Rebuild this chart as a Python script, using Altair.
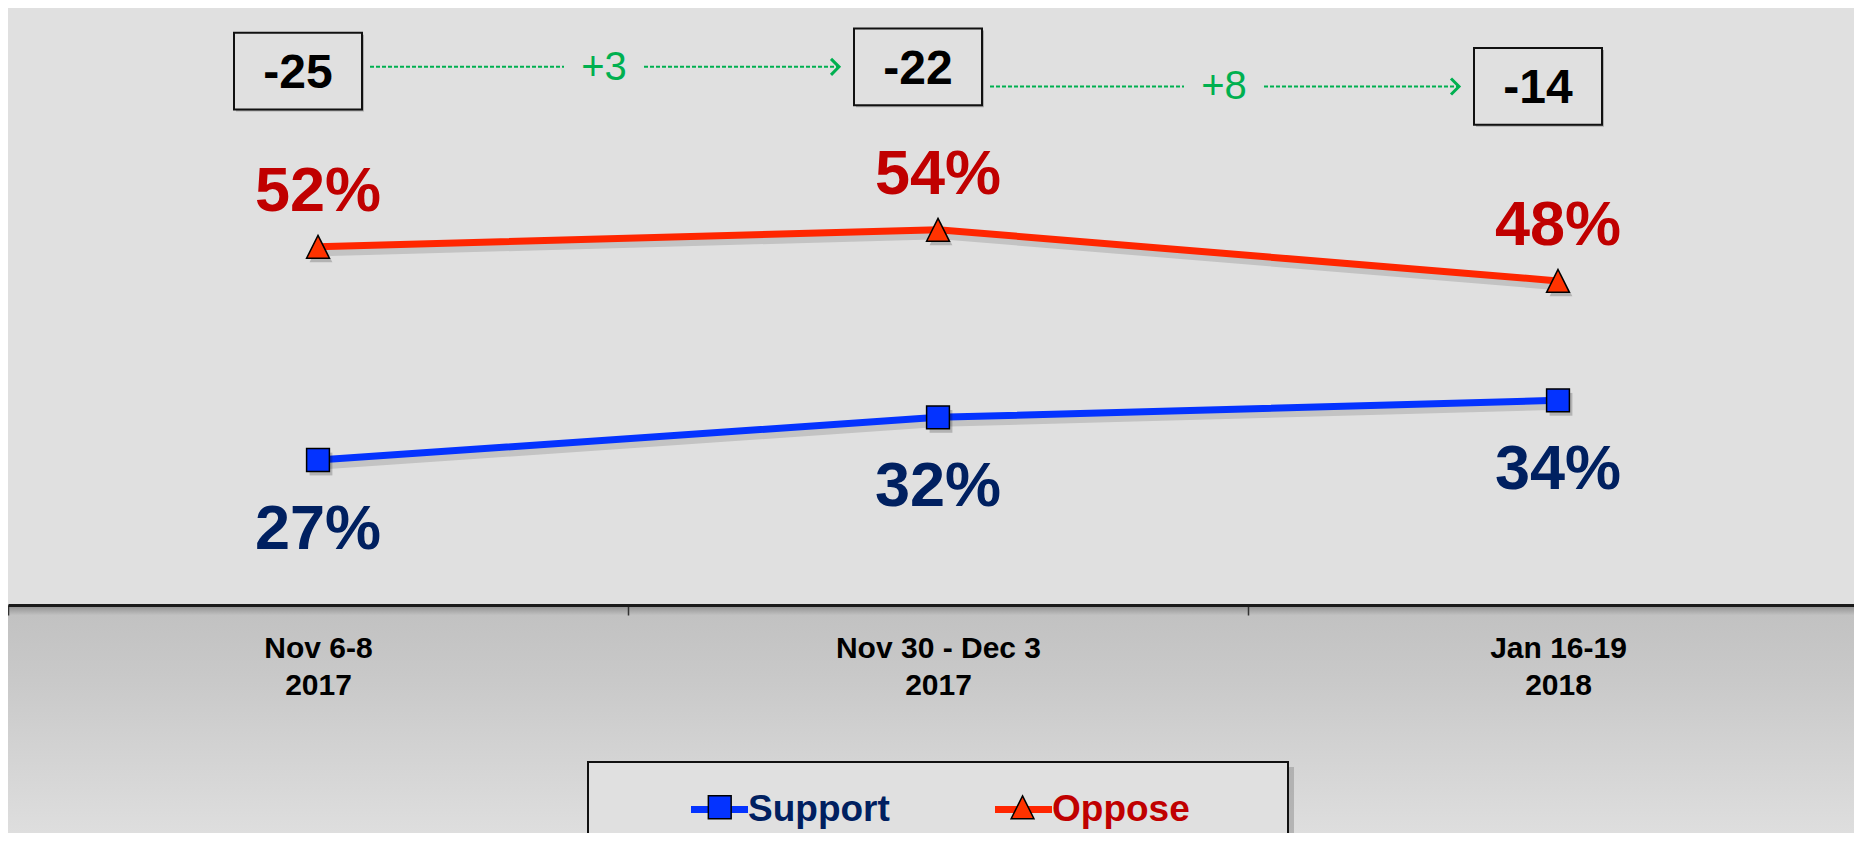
import json
import altair as alt
import pandas as pd

# ---------------- data ----------------
date_line1 = ["Nov 6-8", "Nov 30 - Dec 3", "Jan 16-19"]
date_line2 = ["2017", "2017", "2018"]
support = [27, 32, 34]
oppose = [52, 54, 48]
series_names = ["Support", "Oppose"]

# ---------------- layout / style ----------------
W, H = 1846, 597
PAD_BOTTOM = 228
BAND = 620
X_MAX = -0.5 + W / BAND
Y_DOMAIN = [10, 80]
BOX_LEVEL = [72.6, 73.1, 70.8]   # vertical placement of the net-difference boxes (y units)

LINE_COLORS = ["#0433ff", "#ff2600"]
MARKER_COLORS = ["#0433ff", "#ff3300"]
LABEL_COLORS = ["#002060", "#c00000"]
GREEN = "#00b050"
FONT = "Liberation Sans"
NARROW = "Liberation Sans Narrow, Arial Narrow, Liberation Sans"
SQUARE = "M-0.4,-0.4H0.4V0.4H-0.4Z"
TRIANGLE = "M0,-0.4L0.4,0.4H-0.4Z"
BOX_PATH = "M-1,-0.6H1V0.6H-1Z"
CHEVRON = "M-1,-1L0,0L-1,1"

idx = list(range(len(date_line1)))
rows = []
for i in idx:
    rows.append(dict(x=i, value=support[i], series="Support", series2="Support", text=f"{support[i]}%"))
    rows.append(dict(x=i, value=oppose[i], series="Oppose", series2="Oppose", text=f"{oppose[i]}%"))
df = pd.DataFrame(rows)

net = [s - o for s, o in zip(support, oppose)]
net_df = pd.DataFrame(dict(x=idx, lvl=BOX_LEVEL, text=[f"{n:d}" for n in net]))
chg = [net[i + 1] - net[i] for i in range(len(net) - 1)]
chg_df = pd.DataFrame(dict(
    x=idx[:-1], x_next=idx[1:], mid=[i + 0.5 for i in idx[:-1]],
    lvl=BOX_LEVEL[1:], text=[f"{c:+d}" for c in chg]))

# ---------------- scales / axes ----------------
label_arr = json.dumps([[a, b] for a, b in zip(date_line1, date_line2)])
x_axis = alt.Axis(
    values=[i - 0.5 for i in idx],
    labelExpr=f"{label_arr}[round(datum.value + 0.5)]",
    labelOffset=BAND / 2, title=None, grid=False,
    tickSize=10, tickColor="#333333", tickWidth=1.5,
    domainColor="#1a1a1a", domainWidth=3,
    labelFont=FONT, labelFontSize=30, labelFontWeight="bold", labelColor="black",
    labelPadding=18, labelLineHeight=37, labelFlush=False, labelOverlap=False,
    labelBound=False, labelLimit=600, zindex=2)
x_scale = alt.Scale(domain=[-0.5, X_MAX], nice=False, zero=False)
y_scale = alt.Scale(domain=Y_DOMAIN, nice=False, zero=False)


def X(field):
    return alt.X(f"{field}:Q", scale=x_scale, axis=x_axis)


def Y(field):
    return alt.Y(f"{field}:Q", scale=y_scale, axis=None)


LEG_Y = 769.5
SUPPORT_LABEL_W = 141.8   # rendered width of the "Support" legend label (37px bold)
line_legend = alt.Legend(
    orient="none", legendX=679.5, legendY=LEG_Y, direction="horizontal", title=None,
    symbolType="stroke", symbolSize=3249, symbolStrokeWidth=7,
    labelFont=FONT, labelFontSize=37, labelFontWeight="bold",
    labelColor={"expr": f"datum.label == 'Support' ? '{LABEL_COLORS[0]}' : '{LABEL_COLORS[1]}'"},
    labelOffset={"expr": "-3.5"}, columnPadding=90, padding=0)
marker_legend = alt.Legend(
    orient="none", legendX=682.25, legendY=LEG_Y, direction="horizontal", title=None,
    symbolType={"expr": f"datum.label == 'Support' ? '{SQUARE}' : '{TRIANGLE}'"},
    symbolSize=3249, symbolStrokeColor="black", symbolStrokeWidth=1.5, symbolOpacity=1,
    labelExpr="''", labelFontSize=37,
    labelOffset={"expr": "-3.5"}, columnPadding=105 + SUPPORT_LABEL_W, padding=0)

# ---------------- layers ----------------
one = pd.DataFrame({"x": [1]})

bg_low = alt.Chart(one).mark_rect(
    color=alt.Gradient(gradient="linear",
                       stops=[alt.GradientStop(color="#8a8a8a", offset=0),
                              alt.GradientStop(color="#c2c2c2", offset=0.045),
                              alt.GradientStop(color="#c8c8c8", offset=0.3),
                              alt.GradientStop(color="#dedede", offset=1)],
                       x1=0, x2=0, y1=0, y2=1)
).encode(x=alt.value(0), x2=alt.value("width"), y=alt.value("height"), y2=alt.value(H + PAD_BOTTOM))

legend_shadow = alt.Chart(one).mark_rect(
    fill="#9a9a9a", opacity=0.6, xOffset=-345, x2Offset=356
).encode(x=X("x"), x2=alt.X2("x"), y=alt.value(H + 162), y2=alt.value(H + 320))

legend_box = alt.Chart(one).mark_rect(
    fill="#e0e0e0", stroke="#111111", strokeWidth=2, xOffset=-350, x2Offset=350
).encode(x=X("x"), x2=alt.X2("x"), y=alt.value(H + 157), y2=alt.value(H + 320))

line_shadow = alt.Chart(df).mark_line(
    strokeWidth=9, color="#000000", opacity=0.13, xOffset=3, yOffset=5
).encode(x=X("x"), y=Y("value"), detail="series:N")

lines = alt.Chart(df).mark_line(strokeWidth=7).encode(
    x=X("x"), y=Y("value"),
    color=alt.Color("series:N", scale=alt.Scale(domain=series_names, range=LINE_COLORS), legend=line_legend))

point_shadow = alt.Chart(df).mark_point(
    filled=True, fill="#000000", opacity=0.2, size=3249, xOffset=3, yOffset=4
).encode(x=X("x"), y=Y("value"),
         shape=alt.Shape("series2:N", scale=alt.Scale(domain=series_names, range=[SQUARE, TRIANGLE]), legend=None))

points = alt.Chart(df).mark_point(
    filled=True, stroke="black", strokeWidth=1.5, size=3249, opacity=1
).encode(
    x=X("x"), y=Y("value"),
    fill=alt.Fill("series2:N", scale=alt.Scale(domain=series_names, range=MARKER_COLORS), legend=marker_legend),
    shape=alt.Shape("series2:N", scale=alt.Scale(domain=series_names, range=[SQUARE, TRIANGLE]), legend=None))

sup_lbl = alt.Chart(df).transform_filter("datum.series == 'Support'").mark_text(
    font=FONT, fontSize=63, fontWeight="bold", color=LABEL_COLORS[0], dy=70, baseline="middle"
).encode(x=X("x"), y=Y("value"), text="text:N")

opp_lbl = alt.Chart(df).transform_filter("datum.series == 'Oppose'").mark_text(
    font=FONT, fontSize=63, fontWeight="bold", color=LABEL_COLORS[1], dy=-55, baseline="middle"
).encode(x=X("x"), y=Y("value"), text="text:N")

box_shadow = alt.Chart(net_df).mark_point(
    shape=BOX_PATH, size=16384, filled=True, fill="#7a7a7a", opacity=0.5, xOffset=-18, yOffset=2
).encode(x=X("x"), y=Y("lvl"))

boxes = alt.Chart(net_df).mark_point(
    shape=BOX_PATH, size=16384, filled=True, fill="#e0e0e0", stroke="#111111", strokeWidth=2,
    xOffset=-20, opacity=1
).encode(x=X("x"), y=Y("lvl"))

box_text = alt.Chart(net_df).mark_text(
    font=FONT, fontSize=48, fontWeight="bold", color="black", dx=-20, dy=3, baseline="middle"
).encode(x=X("x"), y=Y("lvl"), text="text:N")

seg1 = alt.Chart(chg_df).mark_rule(
    color=GREEN, strokeWidth=2, strokeDash=[4, 2], xOffset=52, x2Offset=-64
).encode(x=X("x"), x2=alt.X2("mid"), y=Y("lvl"))

seg2 = alt.Chart(chg_df).mark_rule(
    color=GREEN, strokeWidth=2, strokeDash=[4, 2], xOffset=16, x2Offset=-100
).encode(x=X("mid"), x2=alt.X2("x_next"), y=Y("lvl"))

head = alt.Chart(chg_df).mark_point(
    shape=CHEVRON, size=256, filled=False, color=GREEN, strokeWidth=3, xOffset=-99, opacity=1
).encode(x=X("x_next"), y=Y("lvl"))

chg_text = alt.Chart(chg_df).mark_text(
    font=NARROW, fontSize=40, color=GREEN, dx=-24, dy=1, baseline="middle"
).encode(x=X("mid"), y=Y("lvl"), text="text:N")

chart = alt.layer(
    bg_low, legend_shadow, legend_box, line_shadow, lines, point_shadow, points,
    sup_lbl, opp_lbl, box_shadow, boxes, box_text, seg1, seg2, head, chg_text
).resolve_legend(
    color="independent", fill="independent"
).properties(
    width=W, height=H,
    padding={"left": 0, "top": 0, "right": 0, "bottom": PAD_BOTTOM},
    autosize=alt.AutoSizeParams(type="none"),
    background="#dcdcdc",
).configure_view(fill="#e0e0e0", stroke=None)

chart.save("out.html", embed_options={"renderer": "svg", "actions": False})
